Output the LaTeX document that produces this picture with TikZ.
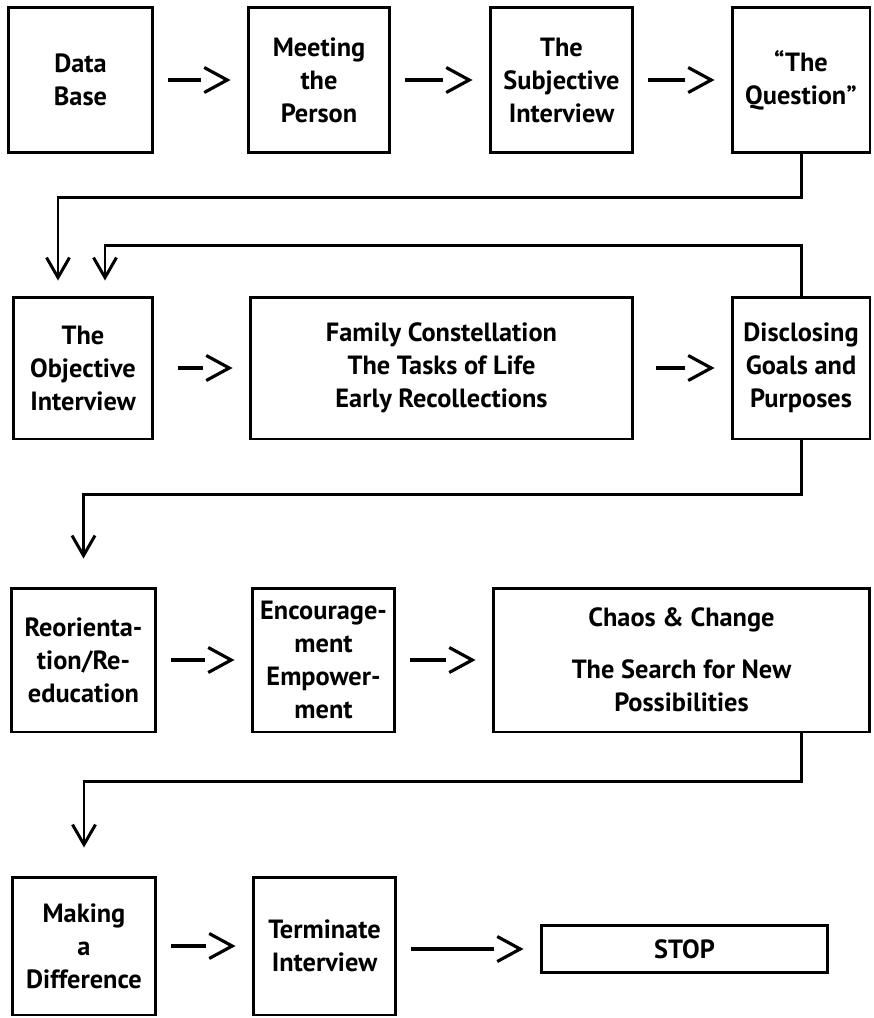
\documentclass[tikz,border=0pt]{standalone}
\usepackage{fontspec}
\setmainfont{PT Sans}
\usetikzlibrary{arrows.meta,decorations.markings}
\tikzset{bloc/.style={draw,line width=1.7pt,align=center,minimum width=2.86cm,minimum height=2.9cm,inner sep=2pt,font=\bfseries\fontsize{15}{18.8}\selectfont},suite/.style={line width=1.8pt,shorten <=0.28cm,shorten >=0.92cm,postaction={decorate},decoration={markings,mark=at position -0.32cm with {\arrow{Straight Barb[length=0.46cm,width=0.5cm]}}}},retour/.style={line width=1.7pt,shorten >=0.56cm,-{Straight Barb[length=0.4cm,width=0.46cm]}}}

\begin{document}
\begin{tikzpicture}[x=0.02cm,y=-0.02cm]
\useasboundingbox (0,0) rectangle (873,1018);
% premiere ligne
\node[bloc,minimum width=2.9cm,minimum height=2.92cm] (data) at (80.5,80) {Data\\Base};
\node[bloc,minimum width=2.84cm,minimum height=2.92cm] (meet) at (319,80) {Meeting\\the\\Person};
\node[bloc,minimum height=2.92cm] (subj) at (561.5,80) {The\\Subjective\\Interview};
\node[bloc,minimum width=2.76cm,minimum height=2.92cm] (quest) at (801,80) {“The\\Question”};
\draw[suite] (data)--(meet);
\draw[suite] (meet)--(subj);
\draw[suite] (subj)--(quest);
% deuxieme ligne
\node[bloc,minimum width=2.8cm,minimum height=2.84cm] (obj) at (83,368) {The\\Objective\\Interview};
\node[bloc,minimum width=7.66cm,minimum height=2.84cm] (fam) at (441.5,368) {Family Constellation\\The Tasks of Life\\Early Recollections};
\node[bloc,minimum width=2.76cm,minimum height=2.84cm] (disc) at (801,368) {Disclosing\\Goals and\\Purposes};
\draw[suite,shorten <=0.48cm] (obj)--(fam);
\draw[suite,shorten <=0.44cm] (fam)--(disc);
% troisieme ligne
\node[bloc,minimum width=2.9cm,minimum height=2.88cm] (reor) at (83.5,660) {Reorienta-\\tion/Re-\\education};
\node[bloc,minimum height=2.88cm] (enc) at (323.5,660) {Encourage-\\ment\\Empower-\\ment};
\node[bloc,minimum width=7.54cm,minimum height=2.88cm] (chaos) at (681.5,660) {Chaos \& Change\\[0.38cm]The Search for New\\Possibilities};
\draw[suite] (reor)--(enc);
\draw[suite] (enc)--(chaos);
% quatrieme ligne
\node[bloc,minimum width=2.88cm,minimum height=2.76cm] (make) at (84,946) {Making\\a\\Difference};
\node[bloc,minimum height=2.76cm] (term) at (324.5,946) {Terminate\\Interview};
\node[bloc,minimum width=5.74cm,minimum height=0.94cm] (stop) at (684.5,949) {STOP};
\draw[suite] (make)--(term);
\draw[suite] (term.east |- stop.west)--(stop.west);
% retours
\draw[retour,shorten >=0.3cm] (quest.south)--++(0,43)-|([xshift=-0.5cm]obj.north);
\draw[retour,shorten >=0.3cm] (disc.north)--++(0,-50)-|([xshift=0.44cm]obj.north);
\draw[retour] (disc.south)--++(0,54)-|(reor.north);
\draw[retour] (chaos.south -| disc.south)--++(0,48)-|(make.north);
\end{tikzpicture}
\end{document}
